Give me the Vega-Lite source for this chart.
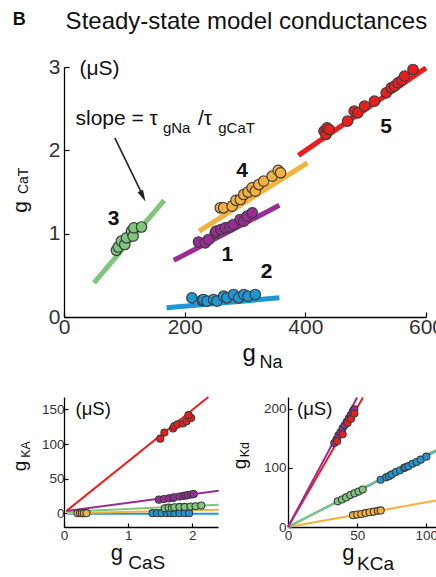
{
  "$schema": "https://vega.github.io/schema/vega-lite/v6.json",
  "padding": {"left": 9, "top": 10, "right": 0, "bottom": 0},
  "background": "white",
  "bounds": "flush",
  "spacing": 80,
  "config": {
    "view": {"stroke": null},
    "text": {"font": "Liberation Sans", "color": "#111"},
    "axis": {"grid": false, "domainColor": "#000", "domainWidth": 1.3, "tickColor": "#000", "tickWidth": 1.2, "labelColor": "#333", "labelFont": "Liberation Sans", "labelOverlap": false, "labelFlush": false}
  },
  "datasets": {
    "top_pts": [
      {"g": "3", "x": 86.8, "y": 0.80}, {"g": "3", "x": 90, "y": 0.84}, {"g": "3", "x": 95, "y": 0.91}, {"g": "3", "x": 100.7, "y": 0.87}, {"g": "3", "x": 103.5, "y": 0.95}, {"g": "3", "x": 111.8, "y": 1.03}, {"g": "3", "x": 114.5, "y": 0.97}, {"g": "3", "x": 115.7, "y": 1.07}, {"g": "3", "x": 128.5, "y": 1.08},
      {"g": "2", "x": 212, "y": 0.23}, {"g": "2", "x": 228.5, "y": 0.20}, {"g": "2", "x": 231, "y": 0.21}, {"g": "2", "x": 237, "y": 0.19}, {"g": "2", "x": 248, "y": 0.21}, {"g": "2", "x": 253.5, "y": 0.19}, {"g": "2", "x": 264.5, "y": 0.25}, {"g": "2", "x": 270, "y": 0.23}, {"g": "2", "x": 281, "y": 0.27}, {"g": "2", "x": 289.5, "y": 0.23}, {"g": "2", "x": 298, "y": 0.27}, {"g": "2", "x": 305, "y": 0.25}, {"g": "2", "x": 317, "y": 0.27},
      {"g": "1", "x": 223, "y": 0.90}, {"g": "1", "x": 234, "y": 0.89}, {"g": "1", "x": 239.5, "y": 0.93}, {"g": "1", "x": 250.7, "y": 1.01}, {"g": "1", "x": 252, "y": 1.03}, {"g": "1", "x": 260, "y": 1.05}, {"g": "1", "x": 267.3, "y": 1.07}, {"g": "1", "x": 275, "y": 1.08}, {"g": "1", "x": 281, "y": 1.11}, {"g": "1", "x": 292, "y": 1.17}, {"g": "1", "x": 298, "y": 1.15}, {"g": "1", "x": 303.5, "y": 1.21}, {"g": "1", "x": 312, "y": 1.25},
      {"g": "4", "x": 259, "y": 1.31}, {"g": "4", "x": 264.5, "y": 1.31}, {"g": "4", "x": 278.5, "y": 1.33}, {"g": "4", "x": 285, "y": 1.40}, {"g": "4", "x": 292.3, "y": 1.41}, {"g": "4", "x": 297.9, "y": 1.47}, {"g": "4", "x": 305, "y": 1.50}, {"g": "4", "x": 311.8, "y": 1.55}, {"g": "4", "x": 317, "y": 1.51}, {"g": "4", "x": 322.9, "y": 1.59}, {"g": "4", "x": 331, "y": 1.63}, {"g": "4", "x": 345, "y": 1.69}, {"g": "4", "x": 355, "y": 1.76}, {"g": "4", "x": 359, "y": 1.73},
      {"g": "5", "x": 431, "y": 2.23}, {"g": "5", "x": 434, "y": 2.19}, {"g": "5", "x": 436, "y": 2.27}, {"g": "5", "x": 439.5, "y": 2.25}, {"g": "5", "x": 470, "y": 2.35}, {"g": "5", "x": 481, "y": 2.47}, {"g": "5", "x": 487, "y": 2.45}, {"g": "5", "x": 498, "y": 2.53}, {"g": "5", "x": 514.5, "y": 2.59}, {"g": "5", "x": 534, "y": 2.69}, {"g": "5", "x": 542.5, "y": 2.75}, {"g": "5", "x": 548, "y": 2.77}, {"g": "5", "x": 553.5, "y": 2.81}, {"g": "5", "x": 560, "y": 2.84}, {"g": "5", "x": 564.5, "y": 2.89}, {"g": "5", "x": 578.5, "y": 2.97}
    ],
    "top_lines": [
      {"g": "3", "x": 49.7, "y": 0.41}, {"g": "3", "x": 166, "y": 1.40},
      {"g": "1", "x": 182, "y": 0.68}, {"g": "1", "x": 357, "y": 1.34},
      {"g": "4", "x": 224, "y": 1.03}, {"g": "4", "x": 403.5, "y": 1.85},
      {"g": "2", "x": 170, "y": 0.11}, {"g": "2", "x": 357, "y": 0.23},
      {"g": "5", "x": 388.5, "y": 1.94}, {"g": "5", "x": 600, "y": 2.99}
    ],
    "top_nums": [
      {"t": "3", "x": 82.3, "y": 1.18}, {"t": "4", "x": 295, "y": 1.75}, {"t": "1", "x": 270.7, "y": 0.75}, {"t": "2", "x": 335.7, "y": 0.546}, {"t": "5", "x": 534, "y": 2.28}
    ],
    "bl_pts": [
      {"g": "2", "x": 1.38, "y": 0}, {"g": "2", "x": 1.45, "y": 0}, {"g": "2", "x": 1.52, "y": 0}, {"g": "2", "x": 1.60, "y": 0}, {"g": "2", "x": 1.66, "y": 0}, {"g": "2", "x": 1.72, "y": 0}, {"g": "2", "x": 1.80, "y": 0}, {"g": "2", "x": 1.88, "y": 0}, {"g": "2", "x": 1.95, "y": 0},
      {"g": "4", "x": 0.21, "y": 0}, {"g": "4", "x": 0.25, "y": 0}, {"g": "4", "x": 0.28, "y": 0}, {"g": "4", "x": 0.31, "y": 0}, {"g": "4", "x": 0.35, "y": 0},
      {"g": "3", "x": 1.57, "y": 7}, {"g": "3", "x": 1.63, "y": 8}, {"g": "3", "x": 1.68, "y": 7.5}, {"g": "3", "x": 1.72, "y": 8.5}, {"g": "3", "x": 1.80, "y": 9}, {"g": "3", "x": 1.88, "y": 9}, {"g": "3", "x": 1.97, "y": 9.5}, {"g": "3", "x": 2.05, "y": 10}, {"g": "3", "x": 2.14, "y": 11},
      {"g": "1", "x": 1.48, "y": 19.5}, {"g": "1", "x": 1.56, "y": 20.5}, {"g": "1", "x": 1.64, "y": 21.5}, {"g": "1", "x": 1.70, "y": 22}, {"g": "1", "x": 1.72, "y": 23}, {"g": "1", "x": 1.80, "y": 24}, {"g": "1", "x": 1.86, "y": 25}, {"g": "1", "x": 1.90, "y": 25.5}, {"g": "1", "x": 1.93, "y": 26}, {"g": "1", "x": 1.98, "y": 27}, {"g": "1", "x": 2.02, "y": 27.5},
      {"g": "5", "x": 1.50, "y": 107.8}, {"g": "5", "x": 1.565, "y": 116.5}, {"g": "5", "x": 1.70, "y": 122.5}, {"g": "5", "x": 1.72, "y": 125.8}, {"g": "5", "x": 1.77, "y": 128.3}, {"g": "5", "x": 1.855, "y": 129.7}, {"g": "5", "x": 1.91, "y": 133}, {"g": "5", "x": 1.98, "y": 137.8}, {"g": "5", "x": 1.94, "y": 141.8}
    ],
    "bl_lines": [
      {"g": "2", "x": 0.05, "y": -1}, {"g": "2", "x": 2.41, "y": -1},
      {"g": "4", "x": 0.05, "y": 0}, {"g": "4", "x": 2.41, "y": 5},
      {"g": "3", "x": 0.05, "y": 2}, {"g": "3", "x": 2.41, "y": 12.3},
      {"g": "1", "x": 0.03, "y": 3}, {"g": "1", "x": 2.41, "y": 32.5},
      {"g": "5", "x": 0.05, "y": 4}, {"g": "5", "x": 2.25, "y": 168}
    ],
    "br_pts": [
      {"g": "4", "x": 47, "y": 20}, {"g": "4", "x": 50, "y": 21}, {"g": "4", "x": 53, "y": 22}, {"g": "4", "x": 56, "y": 23.5}, {"g": "4", "x": 59, "y": 25}, {"g": "4", "x": 62, "y": 26}, {"g": "4", "x": 65, "y": 27.5}, {"g": "4", "x": 67, "y": 28},
      {"g": "3", "x": 36, "y": 43.5}, {"g": "3", "x": 39, "y": 46.5}, {"g": "3", "x": 42, "y": 50}, {"g": "3", "x": 45, "y": 54}, {"g": "3", "x": 48, "y": 57}, {"g": "3", "x": 51, "y": 60}, {"g": "3", "x": 54, "y": 63.5},
      {"g": "2", "x": 67, "y": 80}, {"g": "2", "x": 71, "y": 84}, {"g": "2", "x": 73, "y": 86}, {"g": "2", "x": 75, "y": 89}, {"g": "2", "x": 78, "y": 93}, {"g": "2", "x": 81, "y": 96}, {"g": "2", "x": 84, "y": 100}, {"g": "2", "x": 85, "y": 101}, {"g": "2", "x": 87, "y": 103}, {"g": "2", "x": 90, "y": 107}, {"g": "2", "x": 93, "y": 110}, {"g": "2", "x": 96, "y": 114}, {"g": "2", "x": 100, "y": 119},
      {"g": "1", "x": 33.5, "y": 142}, {"g": "1", "x": 35, "y": 148}, {"g": "1", "x": 36.5, "y": 155}, {"g": "1", "x": 38, "y": 160}, {"g": "1", "x": 39.5, "y": 167}, {"g": "1", "x": 41, "y": 172}, {"g": "1", "x": 42.5, "y": 178}, {"g": "1", "x": 44, "y": 184}, {"g": "1", "x": 45.5, "y": 190}, {"g": "1", "x": 47, "y": 196}, {"g": "1", "x": 48, "y": 199},
      {"g": "5", "x": 35.5, "y": 145}, {"g": "5", "x": 39.5, "y": 157}, {"g": "5", "x": 43, "y": 176}, {"g": "5", "x": 45.5, "y": 183}, {"g": "5", "x": 48, "y": 192}
    ],
    "br_lines": [
      {"g": "4", "x": 0, "y": 0}, {"g": "4", "x": 107, "y": 44.7},
      {"g": "2", "x": 0, "y": 0}, {"g": "2", "x": 107, "y": 128.3},
      {"g": "3", "x": 0, "y": 0}, {"g": "3", "x": 107, "y": 130.5},
      {"g": "5", "x": 0, "y": 0}, {"g": "5", "x": 54.2, "y": 219},
      {"g": "1", "x": 0, "y": 0}, {"g": "1", "x": 50, "y": 219}
    ]
  },
  "vconcat": [
    {
      "width": 362,
      "height": 250,
      "encoding": {
        "x": {"field": "x", "type": "quantitative", "title": null, "scale": {"domain": [0, 600], "nice": false, "zero": false}, "axis": {"values": [0, 200, 400, 600], "tickSize": -5, "labelPadding": 4, "labelFontSize": 21}},
        "y": {"field": "y", "type": "quantitative", "title": null, "scale": {"domain": [0, 3], "nice": false, "zero": false}, "axis": {"values": [0, 1, 2, 3], "tickSize": -5, "labelPadding": 9, "labelFontSize": 21}}
      },
      "layer": [
        {
          "data": {"name": "top_lines"},
          "mark": {"type": "line", "strokeWidth": 5, "strokeCap": "butt"},
          "encoding": {
            "color": {"field": "g", "type": "nominal", "scale": {"domain": ["1", "2", "3", "4", "5"], "range": ["#992c97", "#1f97d4", "#7dc67b", "#f5b13d", "#ee1d1d"]}, "legend": null},
            "detail": {"field": "g"}
          }
        },
        {
          "data": {"name": "top_pts"},
          "mark": {"type": "circle", "size": 110, "opacity": 1, "stroke": "#3d3d3d", "strokeWidth": 1.2},
          "encoding": {"color": {"field": "g", "type": "nominal", "legend": null}}
        },
        {
          "data": {"name": "top_nums"},
          "mark": {"type": "text", "fontSize": 21, "fontWeight": "bold", "align": "center", "baseline": "middle"},
          "encoding": {"text": {"field": "t"}}
        },
        {
          "data": {"values": [{"t": "B", "x": -85, "y": 3.504}]},
          "mark": {"type": "text", "fontSize": 18, "fontWeight": "bold", "align": "left", "baseline": "alphabetic"},
          "encoding": {"text": {"field": "t"}}
        },
        {
          "data": {"values": [{"t": "Steady-state model conductances", "x": 302.3, "y": 3.456}]},
          "mark": {"type": "text", "fontSize": 24, "align": "center", "baseline": "alphabetic"},
          "encoding": {"text": {"field": "t"}}
        },
        {
          "data": {"values": [{"t": "(μS)", "x": 25.7, "y": 2.9}, {"t": "slope = τ", "x": 19, "y": 2.31}, {"t": "/τ", "x": 222, "y": 2.31}]},
          "mark": {"type": "text", "fontSize": 21, "align": "left", "baseline": "alphabetic"},
          "encoding": {"text": {"field": "t"}}
        },
        {
          "data": {"values": [{"t": "gNa", "x": 164, "y": 2.21}, {"t": "gCaT", "x": 255.7, "y": 2.21}]},
          "mark": {"type": "text", "fontSize": 15, "align": "left", "baseline": "alphabetic"},
          "encoding": {"text": {"field": "t"}}
        },
        {
          "data": {"values": [{"x": 84.2, "y": 2.15, "x2": 130.5, "y2": 1.46}]},
          "mark": {"type": "rule", "strokeWidth": 1.6, "color": "#222"},
          "encoding": {"x2": {"field": "x2"}, "y2": {"field": "y2"}}
        },
        {
          "data": {"values": [{"x": 129.7, "y": 1.464}]},
          "mark": {"type": "point", "shape": "M0,-1L0.4,0.6L-0.4,0.6Z", "size": 225, "angle": 154, "filled": true, "color": "#222", "opacity": 1},
          "encoding": {}
        },
        {
          "data": {"values": [{"t": "g", "x": 295.7, "y": -0.528}]},
          "mark": {"type": "text", "fontSize": 24, "align": "left", "baseline": "alphabetic"},
          "encoding": {"text": {"field": "t"}}
        },
        {
          "data": {"values": [{"t": "Na", "x": 324, "y": -0.608}]},
          "mark": {"type": "text", "fontSize": 18, "align": "left", "baseline": "alphabetic"},
          "encoding": {"text": {"field": "t"}}
        },
        {
          "data": {"values": [{"t": "g", "x": -62, "y": 1.25}]},
          "mark": {"type": "text", "fontSize": 21, "angle": 270, "align": "left", "baseline": "alphabetic"},
          "encoding": {"text": {"field": "t"}}
        },
        {
          "data": {"values": [{"t": "CaT", "x": -60.2, "y": 1.475}]},
          "mark": {"type": "text", "fontSize": 14, "angle": 270, "align": "left", "baseline": "alphabetic"},
          "encoding": {"text": {"field": "t"}}
        }
      ]
    },
    {
      "bounds": "flush",
      "spacing": 70,
      "hconcat": [
        {
          "width": 154,
          "height": 130,
          "encoding": {
            "x": {"field": "x", "type": "quantitative", "title": null, "scale": {"domain": [0, 2.4], "nice": false, "zero": false}, "axis": {"values": [0, 1, 2], "tickSize": -4, "labelPadding": 5, "labelFontSize": 13.5}},
            "y": {"field": "y", "type": "quantitative", "title": null, "scale": {"domain": [-20, 168], "nice": false, "zero": false}, "axis": {"values": [0, 50, 100, 150], "tickSize": -4, "labelPadding": 4, "labelFontSize": 13.5}}
          },
          "layer": [
            {
              "data": {"name": "bl_lines"},
              "mark": {"type": "line", "strokeWidth": 2},
              "encoding": {"color": {"field": "g", "type": "nominal", "legend": null}, "detail": {"field": "g"}}
            },
            {
              "data": {"name": "bl_pts"},
              "mark": {"type": "circle", "size": 50, "opacity": 1, "stroke": "#3d3d3d", "strokeWidth": 1.1},
              "encoding": {"color": {"field": "g", "type": "nominal", "legend": null}}
            },
            {
              "data": {"values": [{"t": "(μS)", "x": 0.18, "y": 141.8}]},
              "mark": {"type": "text", "fontSize": 18.5, "align": "left", "baseline": "alphabetic"},
              "encoding": {"text": {"field": "t"}}
            },
            {
              "data": {"values": [{"t": "g", "x": 0.73, "y": -67.2}]},
              "mark": {"type": "text", "fontSize": 22, "align": "left", "baseline": "alphabetic"},
              "encoding": {"text": {"field": "t"}}
            },
            {
              "data": {"values": [{"t": "CaS", "x": 1.0, "y": -80.4}]},
              "mark": {"type": "text", "fontSize": 19, "align": "left", "baseline": "alphabetic"},
              "encoding": {"text": {"field": "t"}}
            },
            {
              "data": {"values": [{"t": "g", "x": -0.6, "y": 60.5}]},
              "mark": {"type": "text", "fontSize": 19, "angle": 270, "align": "left", "baseline": "alphabetic"},
              "encoding": {"text": {"field": "t"}}
            },
            {
              "data": {"values": [{"t": "KA", "x": -0.537, "y": 80}]},
              "mark": {"type": "text", "fontSize": 12.5, "angle": 270, "align": "left", "baseline": "alphabetic"},
              "encoding": {"text": {"field": "t"}}
            }
          ]
        },
        {
          "width": 148,
          "height": 130,
          "encoding": {
            "x": {"field": "x", "type": "quantitative", "title": null, "scale": {"domain": [0, 107], "nice": false, "zero": false}, "axis": {"values": [0, 50, 100], "tickSize": -4, "labelPadding": 5, "labelFontSize": 13.5}},
            "y": {"field": "y", "type": "quantitative", "title": null, "scale": {"domain": [0, 220], "nice": false, "zero": false}, "axis": {"values": [0, 100, 200], "tickSize": -4, "labelPadding": 6, "labelFontSize": 13.5}}
          },
          "layer": [
            {
              "data": {"name": "br_lines"},
              "mark": {"type": "line", "strokeWidth": 2},
              "encoding": {"color": {"field": "g", "type": "nominal", "legend": null}, "detail": {"field": "g"}}
            },
            {
              "data": {"name": "br_pts"},
              "mark": {"type": "circle", "size": 50, "opacity": 1, "stroke": "#3d3d3d", "strokeWidth": 1.1},
              "encoding": {"color": {"field": "g", "type": "nominal", "legend": null}}
            },
            {
              "data": {"values": [{"t": "(μS)", "x": 6.5, "y": 189}]},
              "mark": {"type": "text", "fontSize": 18.5, "align": "left", "baseline": "alphabetic"},
              "encoding": {"text": {"field": "t"}}
            },
            {
              "data": {"values": [{"t": "g", "x": 39.3, "y": -55.5}]},
              "mark": {"type": "text", "fontSize": 22, "align": "left", "baseline": "alphabetic"},
              "encoding": {"text": {"field": "t"}}
            },
            {
              "data": {"values": [{"t": "KCa", "x": 49.9, "y": -73.4}]},
              "mark": {"type": "text", "fontSize": 19, "align": "left", "baseline": "alphabetic"},
              "encoding": {"text": {"field": "t"}}
            },
            {
              "data": {"values": [{"t": "g", "x": -30.4, "y": 97.8}]},
              "mark": {"type": "text", "fontSize": 19, "angle": 270, "align": "left", "baseline": "alphabetic"},
              "encoding": {"text": {"field": "t"}}
            },
            {
              "data": {"values": [{"t": "Kd", "x": -28.2, "y": 118}]},
              "mark": {"type": "text", "fontSize": 12.5, "angle": 270, "align": "left", "baseline": "alphabetic"},
              "encoding": {"text": {"field": "t"}}
            }
          ]
        }
      ]
    }
  ]
}
